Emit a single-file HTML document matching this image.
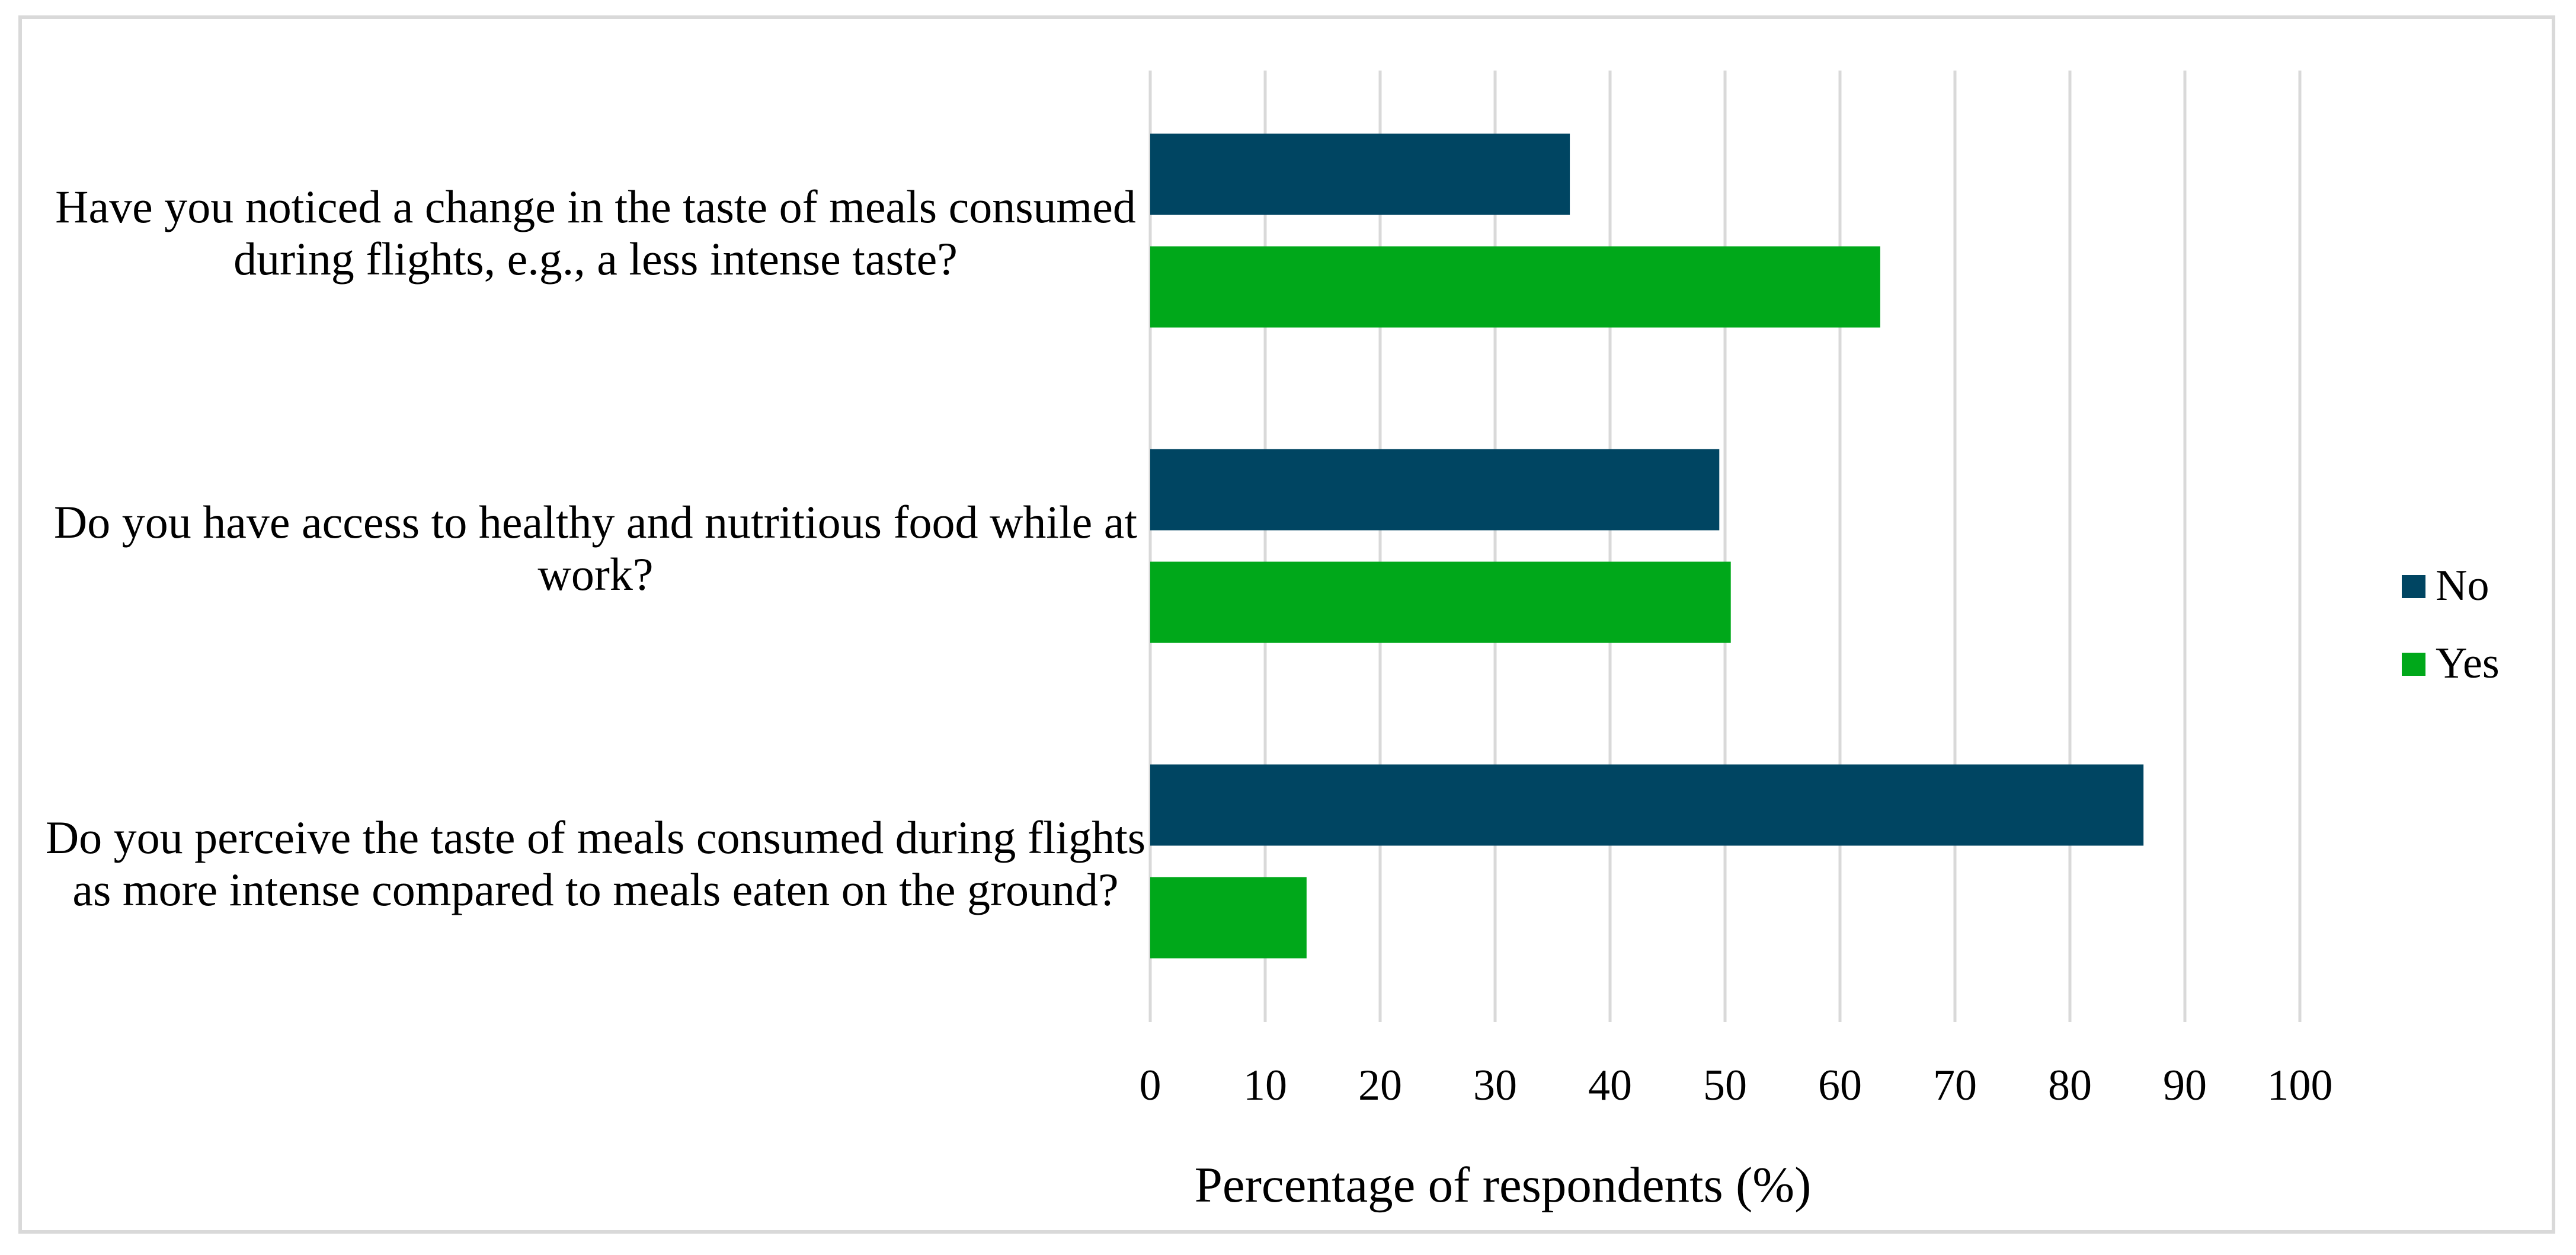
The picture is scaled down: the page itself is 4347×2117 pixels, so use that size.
<!DOCTYPE html>
<html><head><meta charset="utf-8"><style>
html,body{margin:0;padding:0;background:#fff;}
svg{display:block;font-family:"Liberation Serif",serif;}
</style></head><body>
<svg id="chart" width="4347" height="2117" viewBox="0 0 4347 2117" xmlns="http://www.w3.org/2000/svg">
<rect x="34" y="29" width="4275" height="2049" fill="#fff" stroke="#d9d9d9" stroke-width="6"/>
<g id="grid"></g>
<g id="labels"></g>
<g id="bars"></g>
<g id="ticks"></g>
<text x="2536" y="2027" font-size="85" text-anchor="middle" fill="#000">Percentage of respondents (%)</text>
<g>
<rect x="4053" y="970" width="40" height="39" fill="#004562"/>
<text x="4110" y="1012" font-size="74" fill="#000">No</text>
<rect x="4053" y="1101" width="40" height="39" fill="#00a81a"/>
<text x="4110" y="1143" font-size="74" fill="#000">Yes</text>
</g>
</svg>
<script>
const categories = [
  ["Have you noticed a change in the taste of meals consumed", "during flights, e.g., a less intense taste?"],
  ["Do you have access to healthy and nutritious food while at", "work?"],
  ["Do you perceive the taste of meals consumed during flights", "as more intense compared to meals eaten on the ground?"]
];
const noValues = [36.5, 49.5, 86.4];
const yesValues = [63.5, 50.5, 13.6];
const tickValues = [0,10,20,30,40,50,60,70,80,90,100];

const NS = "http://www.w3.org/2000/svg";
const x0 = 1941, pxPerUnit = 19.4;
const plotTop = 123, pitch = 532;
function xScale(v){ return x0 + v*pxPerUnit; }
function yCenter(i){ return plotTop + pitch*(i+0.5); }

const grid = document.getElementById('grid');
const ticks = document.getElementById('ticks');
tickValues.forEach(t=>{
  const l = document.createElementNS(NS,'line');
  
  
  l.setAttribute('x1',xScale(t)); l.setAttribute('x2',xScale(t));
  l.setAttribute('y1',119); l.setAttribute('y2',1724);
  l.setAttribute('stroke','#d9d9d9'); l.setAttribute('stroke-width','5');
  grid.appendChild(l);
  const tx = document.createElementNS(NS,'text');
  
  
  tx.setAttribute('x',xScale(t)); tx.setAttribute('y',1855);
  tx.setAttribute('font-size','74'); tx.setAttribute('text-anchor','middle');
  tx.textContent = t;
  ticks.appendChild(tx);
});

const bars = document.getElementById('bars');
const labels = document.getElementById('labels');
const barH = 137, gap = 53;
categories.forEach((lines,i)=>{
  const c = yCenter(i);
  const rn = document.createElementNS(NS,'rect');
  
  
  rn.setAttribute('x',xScale(0)); rn.setAttribute('y',c-gap/2-barH);
  rn.setAttribute('width',xScale(noValues[i])-xScale(0)); rn.setAttribute('height',barH);
  rn.setAttribute('fill','#004562');
  bars.appendChild(rn);
  const ry = document.createElementNS(NS,'rect');
  
  
  ry.setAttribute('x',xScale(0)); ry.setAttribute('y',c+gap/2);
  ry.setAttribute('width',xScale(yesValues[i])-xScale(0)); ry.setAttribute('height',barH);
  ry.setAttribute('fill','#00a81a');
  bars.appendChild(ry);
  const t = document.createElementNS(NS,'text');
  
  
  t.setAttribute('font-size','78'); t.setAttribute('text-anchor','middle');
  lines.forEach((ln,k)=>{
    const s = document.createElementNS(NS,'tspan');
    s.setAttribute('x',1005);
    s.setAttribute('y',c - 14 + k*88);
    s.textContent = ln;
    t.appendChild(s);
  });
  labels.appendChild(t);
});
</script>
</body></html>
